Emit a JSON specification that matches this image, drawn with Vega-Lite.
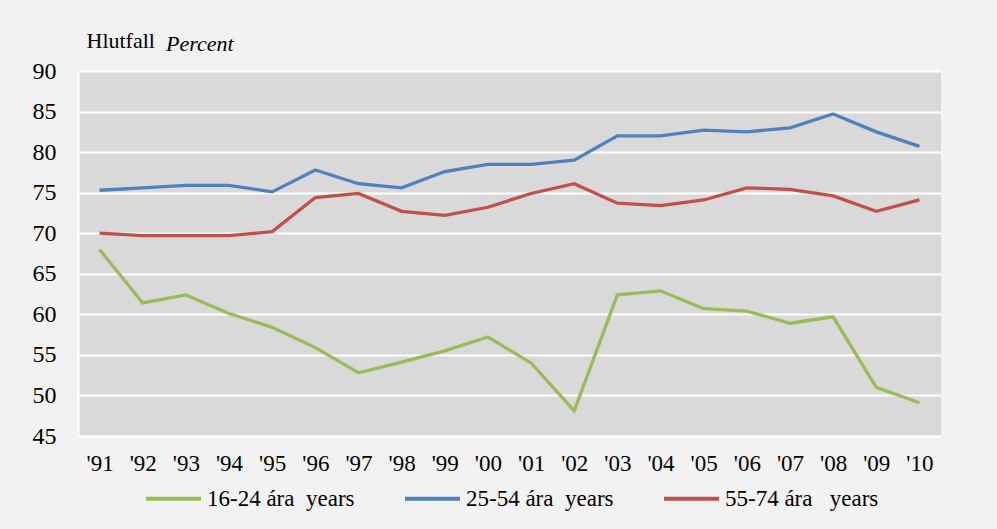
{
  "$schema": "https://vega.github.io/schema/vega-lite/v6.json",
  "autosize": {"type": "none"},
  "width": 863,
  "height": 365,
  "padding": {"left": 78, "top": 71, "right": 56, "bottom": 93},
  "background": "#f2f2f2",
  "title": {
    "text": "Percent",
    "font": "Liberation Serif",
    "fontSize": 22,
    "fontStyle": "italic",
    "fontWeight": "normal",
    "color": "#000000",
    "anchor": "start",
    "frame": "group",
    "baseline": "alphabetic",
    "offset": 0,
    "dx": 88,
    "dy": 44
  },
  "config": {
    "view": {"fill": "#d9d9d9", "stroke": null},
    "font": "Liberation Serif"
  },
  "data": {
    "values": [
      {"year": "'91", "group": "16-24 ára\u00a0\u00a0years", "value": 68.0},
      {"year": "'92", "group": "16-24 ára\u00a0\u00a0years", "value": 61.4},
      {"year": "'93", "group": "16-24 ára\u00a0\u00a0years", "value": 62.4},
      {"year": "'94", "group": "16-24 ára\u00a0\u00a0years", "value": 60.1},
      {"year": "'95", "group": "16-24 ára\u00a0\u00a0years", "value": 58.4},
      {"year": "'96", "group": "16-24 ára\u00a0\u00a0years", "value": 55.9},
      {"year": "'97", "group": "16-24 ára\u00a0\u00a0years", "value": 52.8},
      {"year": "'98", "group": "16-24 ára\u00a0\u00a0years", "value": 54.1},
      {"year": "'99", "group": "16-24 ára\u00a0\u00a0years", "value": 55.5},
      {"year": "'00", "group": "16-24 ára\u00a0\u00a0years", "value": 57.2},
      {"year": "'01", "group": "16-24 ára\u00a0\u00a0years", "value": 54.0},
      {"year": "'02", "group": "16-24 ára\u00a0\u00a0years", "value": 48.1},
      {"year": "'03", "group": "16-24 ára\u00a0\u00a0years", "value": 62.4},
      {"year": "'04", "group": "16-24 ára\u00a0\u00a0years", "value": 62.9},
      {"year": "'05", "group": "16-24 ára\u00a0\u00a0years", "value": 60.7},
      {"year": "'06", "group": "16-24 ára\u00a0\u00a0years", "value": 60.4},
      {"year": "'07", "group": "16-24 ára\u00a0\u00a0years", "value": 58.9},
      {"year": "'08", "group": "16-24 ára\u00a0\u00a0years", "value": 59.7},
      {"year": "'09", "group": "16-24 ára\u00a0\u00a0years", "value": 51.0},
      {"year": "'10", "group": "16-24 ára\u00a0\u00a0years", "value": 49.1},
      {"year": "'91", "group": "25-54 ára\u00a0\u00a0years", "value": 75.3},
      {"year": "'92", "group": "25-54 ára\u00a0\u00a0years", "value": 75.6},
      {"year": "'93", "group": "25-54 ára\u00a0\u00a0years", "value": 75.9},
      {"year": "'94", "group": "25-54 ára\u00a0\u00a0years", "value": 75.9},
      {"year": "'95", "group": "25-54 ára\u00a0\u00a0years", "value": 75.1},
      {"year": "'96", "group": "25-54 ára\u00a0\u00a0years", "value": 77.8},
      {"year": "'97", "group": "25-54 ára\u00a0\u00a0years", "value": 76.1},
      {"year": "'98", "group": "25-54 ára\u00a0\u00a0years", "value": 75.6},
      {"year": "'99", "group": "25-54 ára\u00a0\u00a0years", "value": 77.6},
      {"year": "'00", "group": "25-54 ára\u00a0\u00a0years", "value": 78.5},
      {"year": "'01", "group": "25-54 ára\u00a0\u00a0years", "value": 78.5},
      {"year": "'02", "group": "25-54 ára\u00a0\u00a0years", "value": 79.0},
      {"year": "'03", "group": "25-54 ára\u00a0\u00a0years", "value": 82.0},
      {"year": "'04", "group": "25-54 ára\u00a0\u00a0years", "value": 82.0},
      {"year": "'05", "group": "25-54 ára\u00a0\u00a0years", "value": 82.7},
      {"year": "'06", "group": "25-54 ára\u00a0\u00a0years", "value": 82.5},
      {"year": "'07", "group": "25-54 ára\u00a0\u00a0years", "value": 83.0},
      {"year": "'08", "group": "25-54 ára\u00a0\u00a0years", "value": 84.7},
      {"year": "'09", "group": "25-54 ára\u00a0\u00a0years", "value": 82.5},
      {"year": "'10", "group": "25-54 ára\u00a0\u00a0years", "value": 80.7},
      {"year": "'91", "group": "55-74 ára\u00a0\u00a0\u00a0years", "value": 70.0},
      {"year": "'92", "group": "55-74 ára\u00a0\u00a0\u00a0years", "value": 69.7},
      {"year": "'93", "group": "55-74 ára\u00a0\u00a0\u00a0years", "value": 69.7},
      {"year": "'94", "group": "55-74 ára\u00a0\u00a0\u00a0years", "value": 69.7},
      {"year": "'95", "group": "55-74 ára\u00a0\u00a0\u00a0years", "value": 70.2},
      {"year": "'96", "group": "55-74 ára\u00a0\u00a0\u00a0years", "value": 74.4},
      {"year": "'97", "group": "55-74 ára\u00a0\u00a0\u00a0years", "value": 74.9},
      {"year": "'98", "group": "55-74 ára\u00a0\u00a0\u00a0years", "value": 72.7},
      {"year": "'99", "group": "55-74 ára\u00a0\u00a0\u00a0years", "value": 72.2},
      {"year": "'00", "group": "55-74 ára\u00a0\u00a0\u00a0years", "value": 73.2},
      {"year": "'01", "group": "55-74 ára\u00a0\u00a0\u00a0years", "value": 74.9},
      {"year": "'02", "group": "55-74 ára\u00a0\u00a0\u00a0years", "value": 76.1},
      {"year": "'03", "group": "55-74 ára\u00a0\u00a0\u00a0years", "value": 73.7},
      {"year": "'04", "group": "55-74 ára\u00a0\u00a0\u00a0years", "value": 73.4},
      {"year": "'05", "group": "55-74 ára\u00a0\u00a0\u00a0years", "value": 74.1},
      {"year": "'06", "group": "55-74 ára\u00a0\u00a0\u00a0years", "value": 75.6},
      {"year": "'07", "group": "55-74 ára\u00a0\u00a0\u00a0years", "value": 75.4},
      {"year": "'08", "group": "55-74 ára\u00a0\u00a0\u00a0years", "value": 74.6},
      {"year": "'09", "group": "55-74 ára\u00a0\u00a0\u00a0years", "value": 72.7},
      {"year": "'10", "group": "55-74 ára\u00a0\u00a0\u00a0years", "value": 74.1}
    ]
  },
  "mark": {"type": "line", "strokeWidth": 3.3, "strokeJoin": "miter"},
  "encoding": {
    "x": {
      "field": "year",
      "type": "ordinal",
      "sort": null,
      "scale": {"type": "point", "padding": 0.5},
      "axis": {
        "title": null,
        "labelAngle": 0,
        "labelFont": "Liberation Serif",
        "labelFontSize": 23,
        "labelColor": "#000000",
        "labelPadding": 16,
        "ticks": false,
        "domain": true,
        "domainColor": "#ffffff",
        "domainWidth": 2,
        "grid": false
      }
    },
    "y": {
      "field": "value",
      "type": "quantitative",
      "scale": {"domain": [45, 90], "nice": false, "zero": false},
      "axis": {
        "values": [45, 50, 55, 60, 65, 70, 75, 80, 85, 90],
        "title": "Hlutfall",
        "titleAngle": 0,
        "titleAlign": "left",
        "titleBaseline": "alphabetic",
        "titleX": 8,
        "titleY": -24,
        "titleFont": "Liberation Serif",
        "titleFontSize": 22,
        "titleFontWeight": "normal",
        "titleColor": "#000000",
        "labelFont": "Liberation Serif",
        "labelFontSize": 24,
        "labelColor": "#000000",
        "labelPadding": 22,
        "ticks": false,
        "domain": true,
        "domainColor": "#ffffff",
        "domainWidth": 2,
        "grid": true,
        "gridColor": "#ffffff",
        "gridWidth": 2,
        "gridOpacity": 1
      }
    },
    "color": {
      "field": "group",
      "type": "nominal",
      "sort": null,
      "scale": {
        "domain": ["16-24 ára\u00a0\u00a0years", "25-54 ára\u00a0\u00a0years", "55-74 ára\u00a0\u00a0\u00a0years"],
        "range": ["#9bbb59", "#4f81bd", "#c0504d"]
      },
      "legend": {
        "title": null,
        "orient": "none",
        "direction": "horizontal",
        "legendX": 66,
        "legendY": 398,
        "padding": 0,
        "symbolType": "stroke",
        "symbolSize": 3025,
        "symbolStrokeWidth": 4,
        "labelFont": "Liberation Serif",
        "labelFontSize": 23,
        "labelColor": "#000000",
        "labelOffset": 4,
        "labelLimit": 300,
        "columnPadding": 42
      }
    }
  }
}
